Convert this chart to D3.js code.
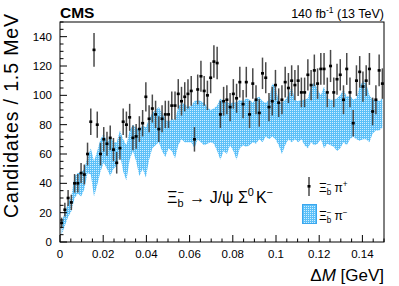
<!DOCTYPE html>
<html><head><meta charset="utf-8">
<script src="https://cdn.jsdelivr.net/npm/d3@7"></script>
<style>body{margin:0;background:#fff}svg{display:block}text{font-family:"Liberation Sans",Arial,Helvetica,sans-serif}</style>
</head><body>
<svg id="c" width="399" height="286"></svg>
<script>
// ---- data ----
const binWidth = 0.0015; // GeV
const counts = [13,22,30,27,40,40,47,46,60,82,131,80,60,70,67,71,63,54,64,82,80,85,71,72,77,
 81,99,84,91,87,77,84,87,87,93,93,101,96,99,101,103,70,104,113,103,100,112,123,122,87,
 96,97,92,101,98,109,94,109,87,108,97,88,115,112,92,96,107,95,97,109,105,110,107,110,102,
 102,114,107,117,108,118,118,102,120,102,111,114,97,118,102,81,110,116,106,110,118,89,97,117,108];
const bandHi = [14,20,27,31,45,47,47,50,58,64,55,62,70,74,68,72,68,68,76,70,66,76,80,78,76,
 80,78,84,88,90,92,88,84,82,84,83,92,95,94,92,93,96,97,96,95,92,90,91,93,98,
 95,96,94,96,95,97,96,98,97,95,98,99,96,95,97,108,106,96,95,97,100,106,97,96,97,
 97,98,106,109,104,100,106,98,97,97,98,100,104,99,100,97,98,106,110,108,100,97,97,96,98];
const bandLo = [5,11,17,21,30,33,31,36,47,46,31,39,48,54,50,45,50,52,60,48,42,56,62,55,45,
 50,44,56,64,66,68,62,58,64,62,57,66,70,68,68,68,64,70,68,66,67,68,67,62,56,
 62,60,66,62,56,64,66,65,66,68,67,70,68,72,70,72,70,66,60,66,70,68,70,68,70,
 66,64,68,66,67,70,64,67,66,65,62,64,68,66,70,72,70,69,70,70,68,74,76,76,78];
const xTicks = [0,0.02,0.04,0.06,0.08,0.1,0.12,0.14];
const yTicks = [0,20,40,60,80,100,120,140];

// ---- layout ----
const svg = d3.select("#c");
const L=60, R=384, T=22, B=242;
const x = d3.scaleLinear().domain([0,0.15]).range([L,R]);
const y = d3.scaleLinear().domain([0,150]).range([B,T]);
const centers = counts.map((_,i)=>(i+0.5)*binWidth);

// hatch pattern
const defs = svg.append("defs");
const pat = defs.append("pattern").attr("id","hatch").attr("patternUnits","userSpaceOnUse").attr("width",2).attr("height",2);
pat.append("rect").attr("width",2).attr("height",2).attr("fill","#5cc0f8");
pat.append("rect").attr("width",1).attr("height",1).attr("fill","#d0eeff");
defs.append("clipPath").attr("id","clip").append("rect").attr("x",L).attr("y",T).attr("width",R-L).attr("height",B-T);

const g = svg.append("g").attr("clip-path","url(#clip)");
// band
const area = d3.area().x((d,i)=>x(centers[i])).y0((d,i)=>y(bandLo[i])).y1((d,i)=>y(bandHi[i]));
g.append("path").datum(counts).attr("d",area).attr("fill","url(#hatch)");

// data points
const pts = g.append("g");
counts.forEach((v,i)=>{
  const e = Math.sqrt(v);
  const cx = x(centers[i]);
  pts.append("line").attr("x1",cx).attr("x2",cx).attr("y1",y(v-e)).attr("y2",y(v+e))
     .attr("stroke","#4a4a4a").attr("stroke-width",1.5);
  pts.append("rect").attr("x",cx-1.5).attr("y",y(v)-1.3).attr("width",3).attr("height",2.6).attr("fill","#000");
});

// frame
svg.append("rect").attr("x",L).attr("y",T).attr("width",R-L).attr("height",B-T)
  .attr("fill","none").attr("stroke","#000").attr("stroke-width",1);

// ticks
const ax = svg.append("g").attr("stroke","#000").attr("stroke-width",1);
d3.range(0,151,5).forEach(v=>{
  const major = v%20===0;
  ax.append("line").attr("x1",L).attr("x2",L+(major?7:3.5)).attr("y1",y(v)).attr("y2",y(v));
});
for(let k=0;k<=30;k++){
  const v=k*0.005; const major = k%4===0;
  ax.append("line").attr("x1",x(v)).attr("x2",x(v)).attr("y1",B).attr("y2",B-(major?7:3.5));
}
svg.append("g").selectAll("text").data(yTicks).join("text")
  .attr("x",L-8).attr("y",d=>y(d)).attr("dy","0.36em").attr("text-anchor","end")
  .attr("font-size",11.5).text(d=>d);
svg.append("g").selectAll("text").data(xTicks).join("text")
  .attr("x",d=>x(d)).attr("y",258).attr("text-anchor","middle")
  .attr("font-size",11.5).text(d=>d3.format("~g")(d));

// axis titles
svg.append("text").attr("transform",`translate(18,218)rotate(-90)`).attr("text-anchor","start")
  .attr("font-size",19.5).attr("textLength",204).attr("lengthAdjust","spacing").text("Candidates / 1.5 MeV");
const xt = svg.append("text").attr("x",R).attr("y",281).attr("text-anchor","end").attr("font-size",17);
xt.append("tspan").text("\u0394");
xt.append("tspan").attr("font-style","italic").text("M");
xt.append("tspan").text(" [GeV]");

// header
svg.append("text").attr("x",L).attr("y",18).attr("font-size",15.5).attr("font-weight","bold").text("CMS");
const lum = svg.append("text").attr("x",R).attr("y",17.5).attr("text-anchor","end").attr("font-size",12.5);
lum.append("tspan").text("140 fb");
lum.append("tspan").attr("dy",-5).attr("font-size",8.5).text("-1");
lum.append("tspan").attr("dy",5).text(" (13 TeV)");

// rich text helper
function rich(x0, y0, size, pieces){
  let cx = x0;
  pieces.forEach(p=>{
    if(p.t!==undefined){
      const t = svg.append("text").attr("x",cx).attr("y",y0).attr("font-size",size).attr("xml:space","preserve").style("white-space","pre").text(p.t);
      cx += t.node().getComputedTextLength();
    } else {
      let w=0;
      if(p.sup){ const t=svg.append("text").attr("x",cx).attr("y",y0-size*0.42).attr("font-size",size*0.68).text(p.sup); w=Math.max(w,t.node().getComputedTextLength()); }
      if(p.sub){ const t=svg.append("text").attr("x",cx).attr("y",y0+size*0.28).attr("font-size",size*0.68).text(p.sub); w=Math.max(w,t.node().getComputedTextLength()); }
      cx += w + (p.gap||0);
    }
  });
}
rich(167,203,16,[{t:"\u039E"},{sup:"\u2212",sub:"b",gap:1},{t:" \u2192 J/\u03C8 \u03A3"},{sup:"0",gap:2},{t:"K"},{sup:"\u2212"}]);

// legend
svg.append("line").attr("x1",309).attr("x2",309).attr("y1",177).attr("y2",196).attr("stroke","#4a4a4a").attr("stroke-width",1.5);
svg.append("rect").attr("x",307.5).attr("y",185).attr("width",3).attr("height",2.6).attr("fill","#000");
rich(319,192,12,[{t:"\u039E"},{sup:"\u2212",sub:"b",gap:3},{t:"\u03C0"},{sup:"+"}]);
svg.append("rect").attr("x",302.5).attr("y",204.5).attr("width",14).attr("height",19)
  .attr("fill","url(#hatch)").attr("stroke","#3aa6ee").attr("stroke-width",1);
rich(319,220,12,[{t:"\u039E"},{sup:"\u2212",sub:"b",gap:3},{t:"\u03C0"},{sup:"\u2212"}]);
</script>
</body></html>
